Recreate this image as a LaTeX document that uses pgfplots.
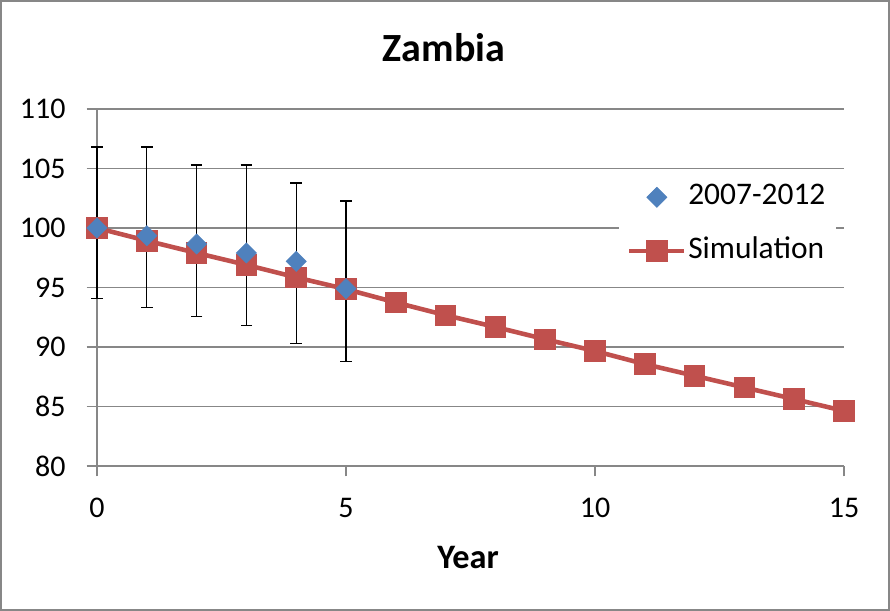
\documentclass[border=0pt]{standalone}
\usepackage{fontspec}
\setmainfont{Carlito}
\usepackage{pgfplots}
\pgfplotsset{compat=1.18}
\definecolor{exblue}{HTML}{4F81BD}
\definecolor{exred}{HTML}{C0504D}
\definecolor{gridgray}{HTML}{878787}
\begin{document}
\begin{tikzpicture}
\useasboundingbox (0,0) rectangle (311.5pt,213.85pt);
\draw[gridgray, line width=0.7pt] (0.35pt,0.35pt) rectangle (311.15pt,213.5pt);
\node[font=\bfseries\fontsize{14}{16}\selectfont] at (155.4pt,197.2pt) {Zambia};
\node[font=\bfseries\fontsize{12}{14}\selectfont] at (163.8pt,18.8pt) {Year};
\begin{axis}[
  at={(33.95pt,50.75pt)}, anchor=south west,
  scale only axis, width=261.45pt, height=124.95pt,
  xmin=0, xmax=15, ymin=80, ymax=110,
  xtick={0,5,10,15}, ytick={80,85,...,110},
  minor tick num=0,
  axis x line*=bottom, axis y line*=left,
  axis line style={draw=gridgray, line width=0.6pt},
  tick align=outside, major tick length=3.6pt,
  tick style={draw=gridgray, line width=0.6pt},
  ymajorgrids, grid style={draw=gridgray, line width=0.6pt},
  clip=false,
  /pgf/number format/assume math mode=true,
  ticklabel style={font=\fontsize{10.5}{12}\selectfont},
  yticklabel style={anchor=east, inner sep=0pt, xshift=-7.2pt},
  xticklabel style={anchor=north, inner sep=0pt, yshift=-7.5pt},
  legend cell align=left,
  reverse legend,
  legend image code/.code={\draw[mark repeat=2,mark phase=2,#1] plot coordinates {(0pt,0pt) (9.6pt,0pt) (19.2pt,0pt)};},
  legend style={at={(rel axis cs:0.6975,0.815)}, anchor=north west, draw=none, fill=white,
    inner xsep=3pt, inner ysep=2pt, row sep=7.6pt,
    font=\fontsize{11}{13}\selectfont,
    nodes={inner sep=0.6pt, text height=7.5pt, text depth=2.5pt}},
]
\addplot[color=exred, line width=1.6pt, mark=square*, mark size=3.6pt,
  mark options={fill=exred, draw=exred, line width=0.3pt}] coordinates {
(0,100) (1,98.93) (2,97.9) (3,96.9) (4,95.85) (5,94.86) (6,93.74) (7,92.67)
(8,91.68) (9,90.65) (10,89.66) (11,88.56) (12,87.58) (13,86.6) (14,85.62) (15,84.63)
};
\addlegendentry{Simulation}
\addplot[only marks, mark=square*, mark size=2.5pt,
  mark options={rotate=45, fill=exblue, draw=exblue, line width=0.2pt},
  error bars/.cd, y dir=both, y explicit,
  error bar style={black, line width=0.45pt},
  error mark=-,
  error mark options={black, mark size=2pt, line width=0.45pt, rotate=90}]
  table[x=x, y=y, y error plus=ep, y error minus=em] {
x y ep em
0 100 6.8 5.92
1 99.35 7.45 6.05
2 98.65 6.65 6.09
3 97.9 7.4 6.07
4 97.2 6.57 6.9
5 94.9 7.37 6.13
};
\addlegendentry{2007-2012}
\end{axis}
\end{tikzpicture}
\end{document}
